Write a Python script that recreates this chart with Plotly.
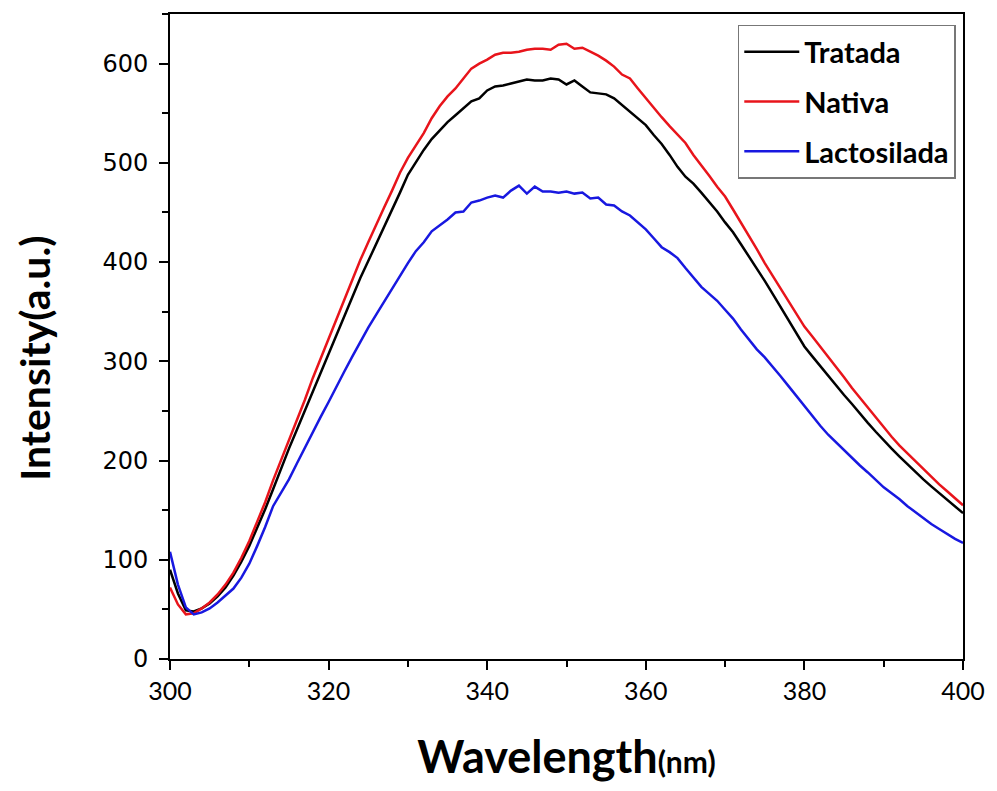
import plotly.graph_objects as go

# emission spectra, 1 nm steps from 300 to 400 nm
wavelength = list(range(300, 401))

tratada = [
    90, 66, 49, 48, 51, 56, 63, 72, 84, 98,
    114, 132, 151, 171, 192, 212, 231, 250, 270, 289,
    308, 327, 346, 365, 384, 401, 418, 435, 452, 470,
    488, 501, 513, 524, 533, 541, 548, 555, 562, 565,
    573, 577, 578, 580, 582, 584, 583, 583, 585, 584,
    579, 583, 577, 571, 570, 569, 565, 558, 551, 544,
    538, 528, 519, 508, 496, 486, 479, 470, 461, 451,
    440, 430, 418, 406, 394, 381, 368, 355, 341, 328,
    315, 305, 295, 285, 276, 266, 257, 247, 238, 229,
    220, 212, 204, 196, 188, 181, 174, 167, 160, 154,
    147,
]

nativa = [
    72, 55, 45, 46, 51, 57, 65, 75, 87, 102,
    119, 138, 158, 180, 200, 220, 240, 261, 283, 303,
    323, 343, 363, 383, 402, 420, 438, 455, 472, 490,
    505, 518, 530, 545, 557, 567, 575, 585, 595, 600,
    604, 609, 611, 611, 612, 614, 615, 615, 614, 619,
    620, 615, 616, 612, 608, 603, 597, 589, 585, 575,
    565, 556, 546, 537, 528, 520, 508, 498, 487, 476,
    466, 453, 440, 427, 413, 399, 386, 373, 360, 347,
    335, 325, 315, 305, 294, 284, 273, 263, 253, 243,
    234, 224, 215, 207, 199, 191, 183, 176, 169, 162,
    155,
]

lactosilada = [
    108, 75, 52, 45, 47, 51, 57, 64, 71, 82,
    96, 114, 133, 154, 168, 181, 197, 213, 228, 244,
    259, 275, 290, 305, 320, 334, 347, 360, 374, 386,
    399, 411, 420, 431, 437, 443, 450, 451, 460, 462,
    465, 467, 465, 472, 477, 469, 476, 471, 471, 470,
    471, 469, 470, 464, 465, 458, 457, 451, 447, 440,
    433, 424, 415, 410, 404, 394, 385, 375, 368, 361,
    352, 343, 332, 322, 312, 304, 295, 285, 275, 265,
    255, 244, 235, 226, 218, 210, 203, 195, 188, 180,
    173, 167, 161, 154, 148, 142, 136, 131, 126, 121,
    117,
]

fig = go.Figure()
fig.add_trace(go.Scatter(x=wavelength, y=tratada, mode='lines', name='Tratada',
                         legendgroup='a', line=dict(color='#000000', width=2.5)))
fig.add_trace(go.Scatter(x=wavelength, y=nativa, mode='lines', name='Nativa',
                         legendgroup='b', line=dict(color='#e8141b', width=2.5)))
fig.add_trace(go.Scatter(x=wavelength, y=lactosilada, mode='lines', name='Lactosilada',
                         legendgroup='c', line=dict(color='#1818e0', width=2.5)))

fig.update_xaxes(range=[300, 400], dtick=20, tick0=300,
                 showline=True, linecolor='black', linewidth=2, mirror=True,
                 ticks='outside', ticklen=9, tickwidth=2, tickcolor='black',
                 minor=dict(dtick=10, ticks='outside', ticklen=6, tickwidth=2, tickcolor='black'),
                 showgrid=False, zeroline=False,
                 tickfont=dict(family='Lato', size=25, color='black'),
                 title=dict(text="<b>Wavelength<span style='font-size:30px'>(nm)</span></b>",
                            font=dict(family='Lato', size=45, color='black'),
                            standoff=42))
fig.update_yaxes(range=[0, 650], dtick=100,
                 showline=True, linecolor='black', linewidth=2, mirror=True,
                 ticks='outside', ticklen=9, tickwidth=2, tickcolor='black',
                 minor=dict(dtick=50, ticks='outside', ticklen=6, tickwidth=2, tickcolor='black'),
                 showgrid=False, zeroline=False, ticklabelstandoff=6,
                 tickfont=dict(family='DejaVu Sans', size=24, color='black'))

# y title sits a little below the middle of the axis, so it is an annotation
fig.add_annotation(text='<b>Intensity(a.u.)</b>', textangle=-90,
                   xref='paper', yref='paper', x=-0.171, y=0.466,
                   xanchor='center', yanchor='middle', showarrow=False,
                   font=dict(family='Lato', size=41, color='black'))

# page body adds an 8px margin, so the figure is sized to fit inside it
fig.update_layout(
    width=981, height=775,
    template='plotly_white',
    paper_bgcolor='white', plot_bgcolor='white',
    margin=dict(l=162, r=22, t=4, b=121),
    legend=dict(x=0.716, y=0.983, xanchor='left', yanchor='top',
                bordercolor='#777777', borderwidth=1.5, bgcolor='white',
                font=dict(family='Lato', size=29, color='black', weight='bold'),
                tracegroupgap=9, itemwidth=55),
    showlegend=True,
)

fig.write_html("out.html")
